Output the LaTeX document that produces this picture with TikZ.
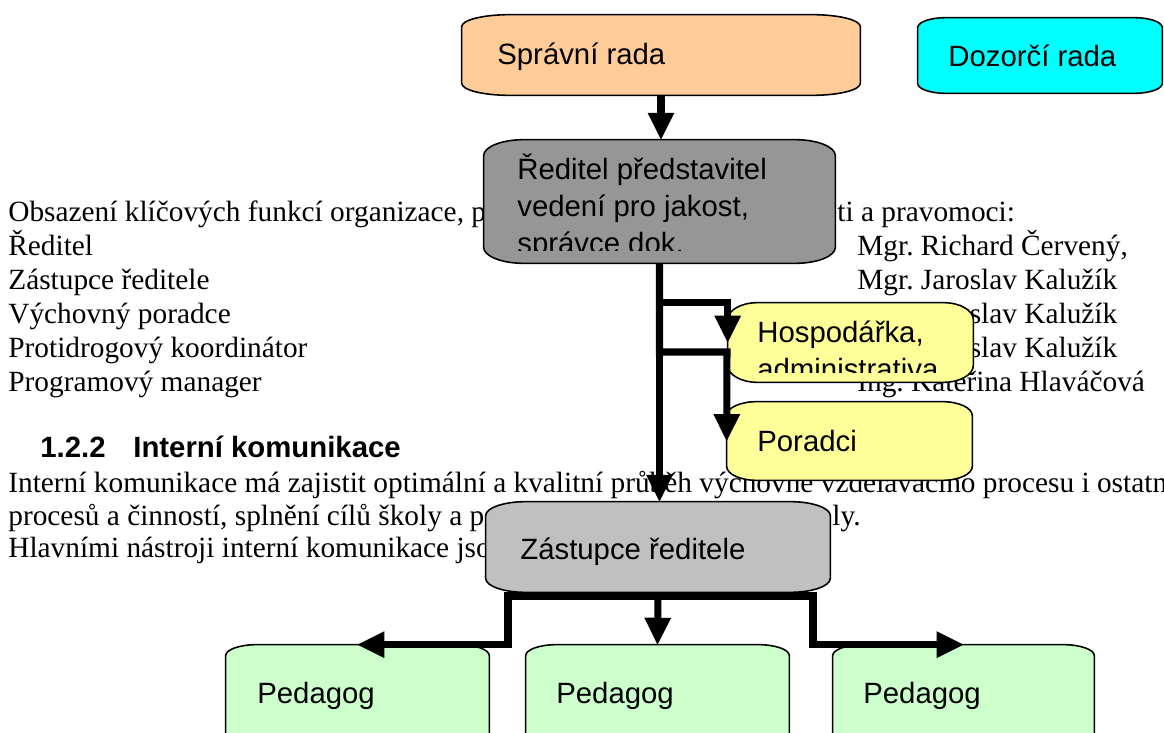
\documentclass[tikz,border=0pt]{standalone}
\usepackage{fontspec}
\setmainfont{Liberation Serif}
\setsansfont{Liberation Sans}
\usetikzlibrary{arrows.meta}

\definecolor{sprcol}{HTML}{FFCC99}
\definecolor{dozcol}{HTML}{00FFFF}
\definecolor{redcol}{HTML}{969696}
\definecolor{zascol}{HTML}{C0C0C0}
\definecolor{hospcol}{HTML}{FFFF99}
\definecolor{pedcol}{HTML}{CCFFCC}

\newcommand{\docfont}{\rmfamily\fontsize{16.7pt}{19.3pt}\selectfont\frenchspacing}
\newcommand{\boxfont}{\sffamily\fontsize{16.7pt}{21pt}\selectfont}

\begin{document}
\begin{tikzpicture}[x=0.02cm, y=-0.02cm]
\tikzset{
	doc/.style = {anchor=base west, inner sep=0pt, font=\docfont, align=flush left, text width=30cm},
	box/.style = {inner sep=0pt},
	boxtext/.style = {anchor=base west, inner sep=0pt, font=\boxfont, align=flush left, text width=12cm},
	conn/.style = {line width=4pt, -{Triangle[width=15.3pt, length=15.3pt, line width=0pt]}}
}
\clip (0,0) rectangle (1164,733);
\fill[white] (0,0) rectangle (1164,733);

% text of the page
\node (obs) [doc] at (8,222) {Obsazení klíčových funkcí organizace, p\\Ředitel\\Zástupce ředitele\\Výchovný poradce\\Protidrogový koordinátor\\Programový manager};
\node (prav) [doc] at (837,222) {ti a pravomoci:};
\node (jmena) [doc] at (857,256) {Mgr. Richard Červený,\\Mgr. Jaroslav Kalužík\\Mgr. Jaroslav Kalužík\\Mgr. Jaroslav Kalužík\\Ing. Kateřina Hlaváčová};
\node (cislo) [doc, font=\boxfont\bfseries] at (40,458) {1.2.2};
\node (nadpis) [doc, font=\boxfont\bfseries] at (133,458) {Interní komunikace};
\node (odst1) [doc] at (8,492) {Interní komunikace má zajistit optimální a kvalitní průběh výchovně vzdělávacího procesu i ostatn};
\node (odst2) [doc] at (8,525) {procesů a činností, splnění cílů školy a p};
\node (odst2b) [doc] at (832,525) {ly.};
\node (odst3) [doc] at (8,557) {Hlavními nástroji interní komunikace jso};

% boxes
\node (sprava) [box, minimum width=7.96cm, minimum height=1.6cm] at (661,55) {};
\node (dozor) [box, minimum width=4.88cm, minimum height=1.5cm] at (1040,55.5) {};
\node (reditel) [box, minimum width=7.02cm, minimum height=2.46cm] at (659.5,201.5) {};
\node (hosp) [box, minimum width=4.9cm, minimum height=1.58cm] at (850.5,342.5) {};
\node (poradci) [box, minimum width=4.9cm, minimum height=1.56cm] at (849.5,441) {};
\node (zast) [box, minimum width=6.88cm, minimum height=1.8cm] at (658,547) {};
\node (ped1) [box, minimum width=5.26cm, minimum height=2.1cm] at (357.5,697.5) {};
\node (ped2) [box, minimum width=5.26cm, minimum height=2.1cm] at (657.5,697.5) {};
\node (ped3) [box, minimum width=5.22cm, minimum height=2.1cm] at (963.5,697.5) {};

% flat rounded outlines of the boxes
\foreach \bx/\col/\rx/\ry in {sprava/sprcol/0.96cm/0.24cm, dozor/dozcol/0.56cm/0.2cm,
		reditel/redcol/0.8cm/0.32cm, hosp/hospcol/0.6cm/0.34cm, poradci/hospcol/0.6cm/0.28cm,
		zast/zascol/0.8cm/0.28cm, ped1/pedcol/0.62cm/0.22cm, ped2/pedcol/0.62cm/0.22cm,
		ped3/pedcol/0.62cm/0.22cm}
	\filldraw[fill=\col, line width=0.9pt] ([xshift=\rx]\bx.north west) -- ([xshift=-\rx]\bx.north east)
		arc[start angle=90, end angle=0, x radius=\rx, y radius=\ry] -- ([yshift=\ry]\bx.south east)
		arc[start angle=0, end angle=-90, x radius=\rx, y radius=\ry] -- ([xshift=\rx]\bx.south west)
		arc[start angle=-90, end angle=-180, x radius=\rx, y radius=\ry] -- ([yshift=-\ry]\bx.north west)
		arc[start angle=180, end angle=90, x radius=\rx, y radius=\ry] -- cycle;

\node (sprava-t) [boxtext] at (497,65) {Správní rada};
\node (dozor-t) [boxtext] at (948,67) {Dozorčí rada};
\begin{scope}
	\clip (reditel.north west) rectangle ([yshift=0.26cm]reditel.south east);
	\node (reditel-t) [boxtext] at (517,180) {Ředitel představitel\\vedení pro jakost,\\správce dok.};
\end{scope}
\begin{scope}
	\clip (hosp.north west) rectangle ([yshift=0.2cm]hosp.south east);
	\node (hosp-t) [boxtext] at (757,343) {Hospodářka,\\administrativa};
\end{scope}
\node (poradci-t) [boxtext] at (757,452) {Poradci};
\node (zast-t) [boxtext] at (520,560) {Zástupce ředitele};
\node (ped1-t) [boxtext] at (257,703) {Pedagog};
\node (ped2-t) [boxtext] at (556,703) {Pedagog};
\node (ped3-t) [boxtext] at (863,703) {Pedagog};

% connectors
\coordinate (pk) at (727,352);
\coordinate (lk) at (508,596);
\coordinate (rk) at (813,596);
\draw[conn] (sprava.south) -- (sprava.south |- reditel.north);
\draw[conn] (reditel.south) -- (reditel.south |- zast.north);
\draw[conn] (reditel.south) |- (hosp.north west) -- (hosp.west);
\draw[conn] (reditel.south) |- (pk) -- (poradci.west);
\draw[conn] (zast.south) |- (lk) |- (ped1.north);
\draw[conn] (zast.south) -- (ped2.north);
\draw[conn] (zast.south) |- (rk) |- (ped3.north);
\end{tikzpicture}
\end{document}
